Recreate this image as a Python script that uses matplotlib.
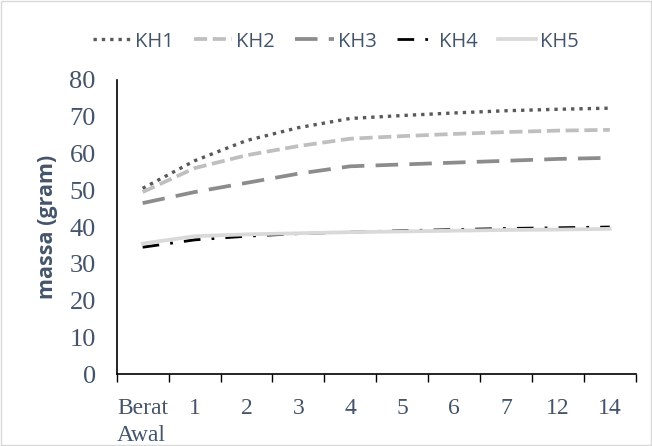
import matplotlib.pyplot as plt
import numpy as np

# categories and series (massa, gram)
categories = ['Berat\nAwal', '1', '2', '3', '4', '5', '6', '7', '12', '14']
kh1 = [50.5, 58.0, 63.5, 67.0, 69.5, 70.3, 71.0, 71.6, 72.0, 72.3]
kh2 = [49.5, 56.0, 59.5, 62.0, 64.0, 64.7, 65.3, 65.8, 66.2, 66.4]
kh3 = [46.5, 49.5, 52.0, 54.5, 56.5, 57.0, 57.5, 58.0, 58.5, 58.8]
kh4 = [34.5, 36.5, 37.5, 38.2, 38.6, 39.0, 39.3, 39.6, 39.8, 40.0]
kh5 = [35.5, 37.5, 38.0, 38.3, 38.6, 38.8, 39.0, 39.2, 39.3, 39.5]

text_color = '#44546A'

fig = plt.figure(figsize=(6.52, 4.46), dpi=100)
ax = fig.add_axes([0.179, 0.161, 0.796, 0.66])

x = np.arange(len(categories))
ax.plot(x, kh1, color='#595959', linestyle=(0, (1, 1.5)), lw=2.4, label='KH1')
ax.plot(x, kh2, color='#BFBFBF', linestyle=(0, (3.5, 1.5)), lw=2.7, label='KH2')
ax.plot(x, kh3, color='#8C8C8C', linestyle=(0, (6, 3)), lw=2.7, label='KH3')
ax.plot(x, kh4, color='#000000', linestyle=(0, (6, 4, 1, 4)), lw=2, label='KH4')
ax.plot(x, kh5, color='#D9D9D9', linestyle='-', lw=2.7, label='KH5')

ax.set_xlim(-0.5, len(categories) - 0.5)
ax.set_ylim(0, 80)
ax.set_yticks(range(0, 81, 10))
ax.set_xticks(x)
ax.set_xticklabels(categories, family='Liberation Serif', fontsize=17,
                   color=text_color, multialignment='left', va='top',
                   linespacing=1.4)
ax.set_xticks(np.arange(-0.5, len(categories)), minor=True)
ax.tick_params(axis='x', which='major', length=0, pad=17)
ax.tick_params(axis='x', which='minor', length=6, width=1, color='black')
ax.tick_params(axis='y', length=0, pad=15)
for lbl in ax.get_yticklabels():
    lbl.set_family('Liberation Serif')
    lbl.set_fontsize(19)
    lbl.set_color(text_color)

ax.spines['top'].set_visible(False)
ax.spines['right'].set_visible(False)
ax.spines['left'].set_linewidth(1.2)
ax.spines['bottom'].set_linewidth(1.2)

ax.set_ylabel('massa (gram)', fontsize=15.5, fontweight='bold',
              family='Open Sans', color=text_color, labelpad=8)

fig.legend(loc='upper center', bbox_to_anchor=(0.515, 0.97), ncol=5,
           frameon=False, handlelength=1.9, columnspacing=1.0, handletextpad=0.2,
           prop={'family': 'Open Sans', 'size': 14.5}, labelcolor=text_color)

# light border around the chart area
fig.patches.append(plt.Rectangle((0.002, 0.002), 0.996, 0.996, transform=fig.transFigure,
                                 fill=False, edgecolor='#D9D9D9', lw=1))

fig.savefig('out.png', dpi=100)
